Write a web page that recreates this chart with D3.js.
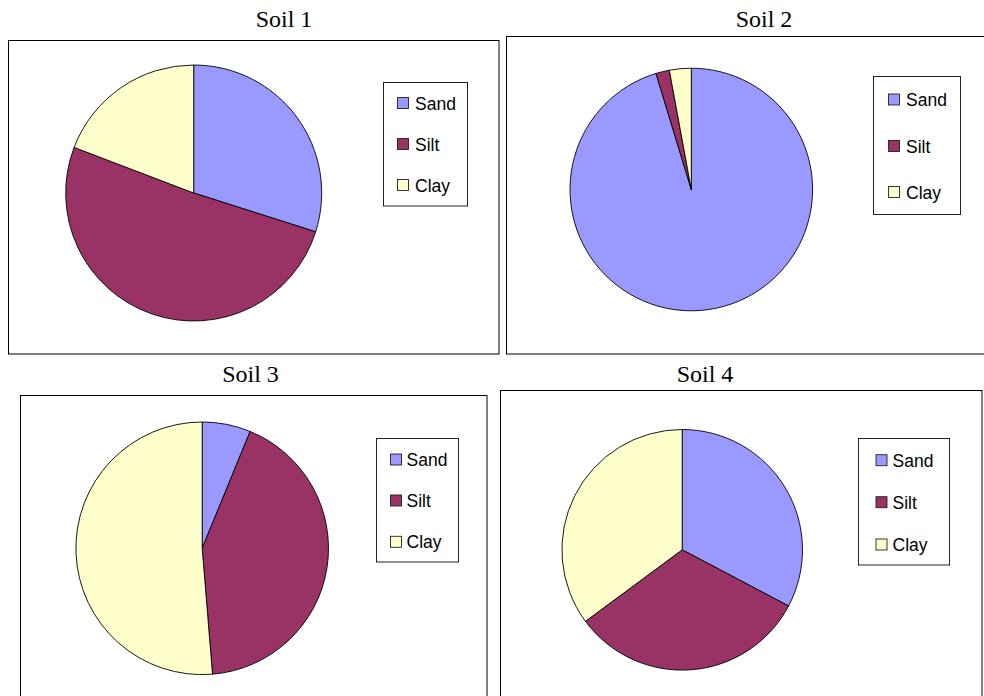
<!DOCTYPE html>
<html>
<head>
<meta charset="utf-8">
<script src="https://cdn.jsdelivr.net/npm/d3@7"></script>
<style>
  html, body { margin: 0; padding: 0; background: #fff; }
  svg { display: block; }
</style>
</head>
<body>
<svg id="chart" width="984" height="696"></svg>
<script>
// Soil texture composition (%), one pie per soil sample
const soils = ["Soil 1", "Soil 2", "Soil 3", "Soil 4"];
const components = ["Sand", "Silt", "Clay"];
const sand = [29.9, 95.3, 6.2, 32.7];
const silt = [50.9, 1.8, 42.5, 32.1];
const clay = [19.2, 2.9, 51.3, 35.1];
const colors = ["#9999FF", "#993366", "#FFFFCC"];

// Panel geometry: frame box, title centre, pie centre/radius, legend box
const panels = [
  { box: [8.5, 40.5, 490.5, 313.5], title: [284, 27], pie: [193.7, 193, 128],
    legend: [383.5, 82.5, 84, 123.5], sw: 397.5, tx: 415, rows: [103.5, 144.5, 185.5] },
  { box: [506.5, 36.5, 490, 317.5], title: [764, 27], pie: [691.3, 189.5, 121.3],
    legend: [873.5, 76.5, 87, 138], sw: 888.5, tx: 906, rows: [100, 146.5, 192.5] },
  { box: [20.5, 395.5, 466.5, 320], title: [250.5, 382], pie: [202.2, 548.3, 126.3],
    legend: [376.5, 438.5, 82, 123.5], sw: 390.5, tx: 406.5, rows: [460, 501, 542.3] },
  { box: [500.5, 390.5, 481.5, 320], title: [705, 382], pie: [682.2, 549.8, 120.3],
    legend: [858.5, 438.5, 91, 126.5], sw: 876, tx: 892.5, rows: [460.7, 502.7, 545] }
];

const svg = d3.select("#chart");
const color = d3.scaleOrdinal().domain(components).range(colors);
const pie = d3.pie().sort(null).value(d => d.value);

soils.forEach((name, i) => {
  const p = panels[i];
  const g = svg.append("g");
  const values = [sand[i], silt[i], clay[i]].map((v, k) => ({ key: components[k], value: v }));

  // frame
  g.append("rect")
    .attr("x", p.box[0]).attr("y", p.box[1])
    .attr("width", p.box[2]).attr("height", p.box[3])
    .attr("fill", "#fff").attr("stroke", "#000").attr("stroke-width", 1);

  // title
  g.append("text")
    .attr("x", p.title[0]).attr("y", p.title[1])
    .attr("text-anchor", "middle")
    .attr("font-family", "'Liberation Serif', 'Times New Roman', serif")
    .attr("font-size", 24)
    .attr("fill", "#000")
    .text(name);

  // pie
  const arc = d3.arc().innerRadius(0).outerRadius(p.pie[2]);
  g.append("g")
    .attr("transform", `translate(${p.pie[0]},${p.pie[1]})`)
    .selectAll("path")
    .data(pie(values))
    .join("path")
    .attr("d", arc)
    .attr("fill", d => color(d.data.key))
    .attr("stroke", "#000")
    .attr("stroke-width", 0.9)
    .attr("stroke-linejoin", "round");

  // legend
  const L = p.legend;
  g.append("rect")
    .attr("x", L[0]).attr("y", L[1]).attr("width", L[2]).attr("height", L[3])
    .attr("fill", "#fff").attr("stroke", "#222").attr("stroke-width", 1);

  const items = g.append("g").selectAll("g")
    .data(components)
    .join("g");
  items.append("rect")
    .attr("x", p.sw).attr("y", (d, k) => p.rows[k] - 6)
    .attr("width", 11).attr("height", 11)
    .attr("fill", d => color(d))
    .attr("stroke", "#222").attr("stroke-width", 0.9);
  items.append("text")
    .attr("x", p.tx).attr("y", (d, k) => p.rows[k] + 6)
    .attr("font-family", "'Liberation Sans', Arial, sans-serif")
    .attr("font-size", 17.5)
    .attr("fill", "#000")
    .text(d => d);
});
</script>
</body>
</html>
